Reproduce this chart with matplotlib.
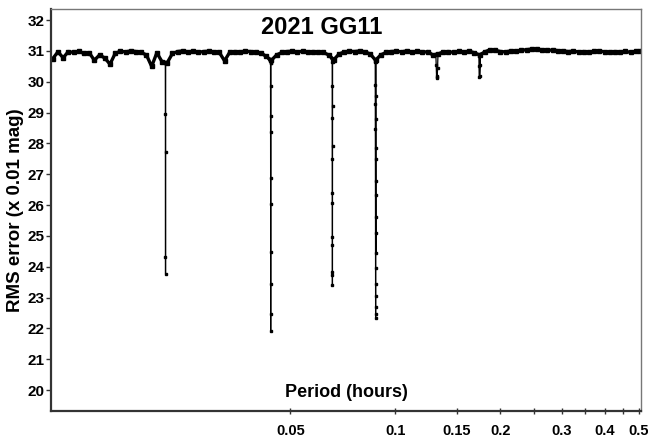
import numpy as np
import matplotlib
matplotlib.use("Agg")
import matplotlib.pyplot as plt
from matplotlib.ticker import FixedLocator, FixedFormatter

plt.rcParams['font.family'] = ['Liberation Sans', 'DejaVu Sans']
plt.rcParams['font.weight'] = 'bold'

# periodogram baseline (period in hours, rms in 0.01 mag)
base_period = [0.0104, 0.01076, 0.01114, 0.01153, 0.01193, 0.01235, 0.01278, 0.01323,
               0.01369, 0.01417, 0.01467, 0.01518, 0.01571, 0.01626, 0.01683, 0.01742,
               0.01803, 0.01866, 0.01931, 0.01999, 0.02069, 0.02141, 0.02216, 0.02294,
               0.02374, 0.02457, 0.02543, 0.02632, 0.02724, 0.02820, 0.02918, 0.03020,
               0.03126, 0.03236, 0.03349, 0.03466, 0.03587, 0.03713, 0.03843, 0.03977,
               0.04117, 0.04261, 0.04410, 0.04564, 0.04724, 0.04889, 0.05060, 0.05237,
               0.05421, 0.05610, 0.05807, 0.06010, 0.06220, 0.06438, 0.06663, 0.06897,
               0.07138, 0.07388, 0.07646, 0.07914, 0.08191, 0.08478, 0.08774, 0.09081,
               0.09399, 0.09728, 0.10069, 0.10421, 0.10786, 0.11164, 0.11554, 0.11959,
               0.12377, 0.12810, 0.13259, 0.13723, 0.14203, 0.14700, 0.15215, 0.15747,
               0.16298, 0.16869, 0.17459, 0.18070, 0.18703, 0.19357, 0.20035, 0.20736,
               0.21462, 0.22213, 0.22991, 0.23795, 0.24628, 0.25490, 0.26382, 0.27306,
               0.28261, 0.29250, 0.30274, 0.31334, 0.32430, 0.33565, 0.34740, 0.35956,
               0.37215, 0.38517, 0.39865, 0.41260, 0.42704, 0.44199, 0.45746, 0.47347,
               0.49004, 0.50500]
base_rms = [30.75, 30.97, 30.78, 30.98, 30.95, 30.99, 30.92, 30.94,
            30.70, 30.87, 30.77, 30.57, 30.92, 30.99, 30.97, 31.00,
            30.98, 30.95, 30.87, 30.50, 30.94, 30.65, 30.62, 30.92,
            30.98, 31.00, 30.97, 30.99, 30.96, 30.98, 30.99, 30.97,
            30.95, 30.68, 30.96, 30.98, 30.97, 30.99, 30.98, 30.96,
            30.94, 30.82, 30.70, 30.87, 30.95, 30.98, 30.99, 30.97,
            30.99, 30.96, 30.98, 30.97, 30.95, 30.87, 30.72, 30.90,
            30.97, 30.99, 30.98, 31.00, 30.97, 30.90, 30.70, 30.87,
            30.95, 30.98, 30.99, 30.97, 31.00, 30.96, 30.99, 30.95,
            30.98, 30.87, 30.90, 30.97, 30.98, 30.95, 30.99, 30.97,
            30.99, 30.94, 30.87, 30.97, 31.04, 31.02, 30.98, 30.97,
            31.00, 30.99, 31.02, 31.04, 31.06, 31.05, 31.04, 31.02,
            31.03, 31.01, 31.00, 30.98, 30.99, 30.97, 30.98, 30.96,
            30.99, 31.00, 30.97, 30.95, 30.98, 30.96, 30.99, 30.95,
            30.99, 31.01]

# the deep minima, sampled finely around each period
dip1_period = [0.02188, 0.02189, 0.02190, 0.02191, 0.02192, 0.02193]
dip1_rms = [30.60, 28.97, 24.33, 23.78, 27.73, 30.60]

dip2_period = [0.04385, 0.04386, 0.04387, 0.04388, 0.04389, 0.04390,
               0.04391, 0.04392, 0.04393, 0.04394, 0.04395]
dip2_rms = [30.60, 29.86, 28.38, 26.03, 23.43, 21.92,
            22.46, 24.49, 26.89, 28.90, 30.60]

dip3_period = [0.06593, 0.06594, 0.06595, 0.06596, 0.06597, 0.06598, 0.06599,
               0.06600, 0.06601, 0.06602, 0.06603, 0.06604, 0.06605, 0.06606]
dip3_rms = [30.65, 29.86, 28.82, 27.51, 26.06, 24.70, 23.72,
            23.40, 23.84, 24.97, 26.40, 27.92, 29.22, 30.65]

dip4_period = [0.08770, 0.08771, 0.08772, 0.08773, 0.08774, 0.08775, 0.08776,
               0.08777, 0.08778, 0.08779, 0.08780, 0.08781, 0.08782, 0.08783,
               0.08784, 0.08785, 0.08786, 0.08787, 0.08788, 0.08789]
dip4_rms = [30.65, 29.90, 29.27, 28.48, 27.49, 26.33, 25.11,
            23.97, 23.05, 22.48, 22.35, 22.70, 23.45, 24.46,
            25.62, 26.78, 27.84, 28.78, 29.54, 30.65]

dip5_period = [0.1307, 0.1310, 0.1313, 0.1316, 0.1319, 0.1322, 0.1325]
dip5_rms = [30.90, 30.55, 30.20, 30.13, 30.15, 30.45, 30.90]

dip6_period = [0.1737, 0.1740, 0.1743, 0.1746, 0.1749, 0.1752]
dip6_rms = [30.85, 30.50, 30.16, 30.18, 30.55, 30.90]

xticks = [0.05, 0.1, 0.15, 0.2, 0.3, 0.4, 0.5]
xtick_labels = ['0.05', '0.1', '0.15', '0.2', '0.3', '0.4', '0.5']
xminor = [0.25, 0.35, 0.45]

period = np.concatenate([base_period, dip1_period, dip2_period, dip3_period,
                         dip4_period, dip5_period, dip6_period])
rms = np.concatenate([base_rms, dip1_rms, dip2_rms, dip3_rms,
                      dip4_rms, dip5_rms, dip6_rms])
order = np.argsort(period)
period = period[order]
rms = rms[order]

fig = plt.figure(figsize=(6.48, 4.38), dpi=100)
ax = fig.add_axes([0.0787, 0.0616, 0.9105, 0.9178])

ax.plot(period, rms, color='k', lw=0.9, marker='s', ms=2.0, mec='k', mfc='k')
ax.plot(base_period, base_rms, color='k', lw=2.4, marker='s', ms=2.6)

ax.set_xscale('log')
ax.set_xlim(0.01028, 0.507)
ax.set_ylim(19.32, 32.36)

ax.xaxis.set_major_locator(FixedLocator(xticks))
ax.xaxis.set_major_formatter(FixedFormatter(xtick_labels))
ax.xaxis.set_minor_locator(FixedLocator(xminor))
ax.set_yticks(range(20, 33))

ax.tick_params(axis='x', which='both', direction='inout', length=5, width=1,
               labelsize=10.5, pad=7, color='#333333')
ax.tick_params(axis='y', direction='out', length=3.5, width=1, labelsize=11,
               pad=1, color='#333333')

for side in ['left', 'bottom']:
    ax.spines[side].set_linewidth(1.6)
    ax.spines[side].set_color('#333333')
for side in ['top', 'right']:
    ax.spines[side].set_linewidth(1.0)
    ax.spines[side].set_color('#777777')

ax.text(0.459, 0.953, '2021 GG11', transform=ax.transAxes, ha='center',
        va='center', fontsize=17, fontweight='bold')
ax.text(0.5, 0.0465, 'Period (hours)', transform=ax.transAxes, ha='center',
        va='center', fontsize=13, fontweight='bold')
fig.text(16 / 648, 1 - 210 / 438, 'RMS error (x 0.01 mag)', rotation=90,
         ha='center', va='center', fontsize=13.5, fontweight='bold')

fig.savefig('out.png', dpi=100)
